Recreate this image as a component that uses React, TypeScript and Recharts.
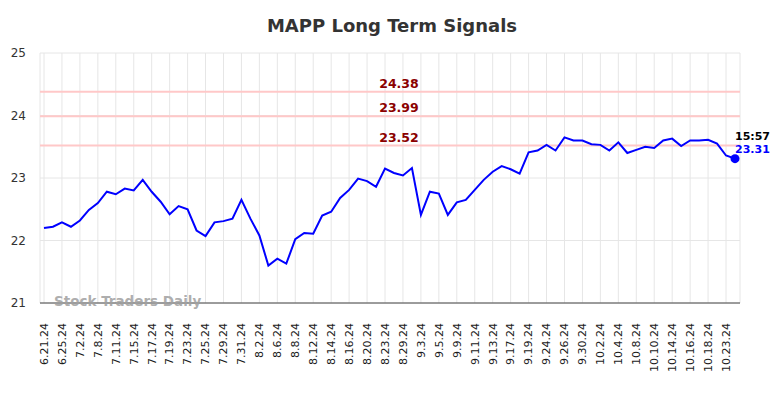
import { LineChart, Line, XAxis, YAxis, CartesianGrid, ReferenceLine } from 'recharts'

// trading dates (every second one is shown as a tick)
const dates = [
  '6.21.24', '6.24.24', '6.25.24', '6.27.24', '7.2.24', '7.5.24', '7.8.24', '7.10.24',
  '7.11.24', '7.12.24', '7.15.24', '7.16.24', '7.17.24', '7.18.24', '7.19.24', '7.22.24',
  '7.23.24', '7.24.24', '7.25.24', '7.26.24', '7.29.24', '7.30.24', '7.31.24', '8.1.24',
  '8.2.24', '8.5.24', '8.6.24', '8.7.24', '8.8.24', '8.9.24', '8.12.24', '8.13.24',
  '8.14.24', '8.15.24', '8.16.24', '8.19.24', '8.20.24', '8.22.24', '8.23.24', '8.27.24',
  '8.29.24', '8.30.24', '9.3.24', '9.4.24', '9.5.24', '9.6.24', '9.9.24', '9.10.24',
  '9.11.24', '9.12.24', '9.13.24', '9.16.24', '9.17.24', '9.18.24', '9.19.24', '9.23.24',
  '9.24.24', '9.25.24', '9.26.24', '9.27.24', '9.30.24', '10.1.24', '10.2.24', '10.3.24',
  '10.4.24', '10.7.24', '10.8.24', '10.9.24', '10.10.24', '10.11.24', '10.14.24', '10.15.24',
  '10.16.24', '10.17.24', '10.18.24', '10.22.24', '10.23.24', '10.24.24',
]

const prices = [
  22.2, 22.22, 22.29, 22.22, 22.32, 22.49, 22.6, 22.78,
  22.74, 22.83, 22.8, 22.97, 22.78, 22.62, 22.42, 22.55,
  22.5, 22.16, 22.07, 22.29, 22.31, 22.35, 22.65, 22.35,
  22.08, 21.6, 21.71, 21.63, 22.02, 22.12, 22.11, 22.4,
  22.46, 22.68, 22.81, 22.99, 22.95, 22.86, 23.15, 23.08,
  23.04, 23.16, 22.41, 22.78, 22.75, 22.41, 22.61, 22.65,
  22.81, 22.97, 23.1, 23.19, 23.14, 23.07, 23.41, 23.44,
  23.53, 23.44, 23.65, 23.6, 23.6, 23.54, 23.53, 23.44,
  23.57, 23.4, 23.45, 23.5, 23.48, 23.6, 23.63, 23.51,
  23.6, 23.6, 23.61, 23.55, 23.36, 23.31,
]

const signalLevels = [24.38, 23.99, 23.52]
const yTicks = [21, 22, 23, 24, 25]
const lastTime = '15:57'

const data = dates.map((date, i) => ({ date, price: prices[i] }))

const FONT = '"DejaVu Sans", sans-serif'

function DateTick({ x, y, payload }: any) {
  return (
    <text
      x={x}
      y={y}
      transform={`rotate(-90, ${x}, ${y})`}
      textAnchor="end"
      dy="0.35em"
      fontSize={11}
      fill="#1a1a1a"
      fontFamily={FONT}
    >
      {payload.value}
    </text>
  )
}

function LastDot(props: any) {
  const { cx, cy, index } = props
  if (index !== prices.length - 1) return <g key={`d${index}`} />
  return (
    <g key={`d${index}`}>
      <circle cx={cx} cy={cy} r={4.5} fill="#0000ff" />
      <text x={cx} y={cy - 19} fontSize={11} fontWeight="bold" fill="#000" fontFamily={FONT}>
        {lastTime}
      </text>
      <text x={cx} y={cy - 6} fontSize={11} fontWeight="bold" fill="#0000ff" fontFamily={FONT}>
        {prices[prices.length - 1].toFixed(2)}
      </text>
    </g>
  )
}

function levelLabel(value: number) {
  return (props: any) => {
    const { viewBox } = props
    return (
      <text
        x={viewBox.x + viewBox.width / 2 + 9}
        y={viewBox.y - 4}
        textAnchor="middle"
        fontSize={12.5}
        fontWeight="bold"
        fill="#8b0000"
        fontFamily={FONT}
      >
        {value.toFixed(2)}
      </text>
    )
  }
}

export default function App() {
  return (
    <div style={{ position: 'relative', width: 784, height: 398, background: '#fff', fontFamily: FONT }}>
      <style>{'body{margin:0}'}</style>
      <div
        style={{
          position: 'absolute',
          top: 15,
          left: 0,
          width: 784,
          textAlign: 'center',
          fontSize: 18,
          fontWeight: 'bold',
          color: '#333',
        }}
      >
        MAPP Long Term Signals
      </div>
      <LineChart
        width={784}
        height={398}
        data={data}
        margin={{ top: 53, right: 44, bottom: 0, left: 0 }}
      >
        <CartesianGrid stroke="#e6e6e6" strokeWidth={1} />
        <XAxis
          dataKey="date"
          interval={1}
          height={95}
          tickSize={0}
          tickMargin={20}
          tick={<DateTick />}
          padding={{ left: 4, right: 5 }}
          stroke="#444"
        />
        <YAxis
          domain={[21, 25]}
          ticks={yTicks}
          width={40}
          axisLine={false}
          tickLine={false}
          tickSize={0}
          tickMargin={14}
          tick={{ fontSize: 12, fill: '#333', fontFamily: FONT }}
        />
        {signalLevels.map((level) => (
          <ReferenceLine
            key={level}
            y={level}
            stroke="#ffc8c8"
            strokeWidth={2}
            label={levelLabel(level)}
          />
        ))}
        <Line
          type="linear"
          dataKey="price"
          stroke="#0000ff"
          strokeWidth={2}
          dot={LastDot}
          activeDot={false}
          isAnimationActive={false}
        />
      </LineChart>
      <div
        style={{
          position: 'absolute',
          left: 54,
          top: 293,
          fontSize: 13.5,
          fontWeight: 'bold',
          color: 'rgba(160,160,160,0.85)',
        }}
      >
        Stock Traders Daily
      </div>
    </div>
  )
}
